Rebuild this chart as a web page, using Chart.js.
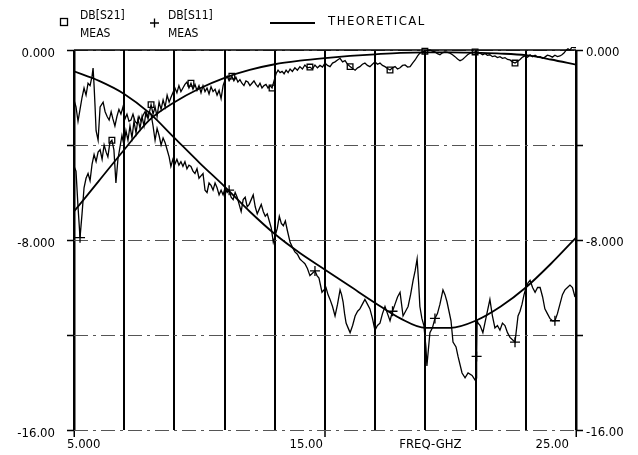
<!DOCTYPE html>
<html>
<head>
<meta charset="utf-8">
<script src="https://cdn.jsdelivr.net/npm/chart.js@4/dist/chart.umd.min.js"></script>
<style>
  html, body { margin: 0; padding: 0; background: #fff; }
  canvas { display: block; }
</style>
</head>
<body>
<canvas id="chart" width="638" height="455"></canvas>
<script>
// measured DB[S21]
const s21MeasFreq = [5.00,5.08,5.16,5.24,5.32,5.40,5.48,5.56,5.64,5.72,5.80,5.88,5.96,6.04,6.12,6.20,6.28,6.35,6.43,6.51,6.59,6.67,6.75,6.83,6.91,6.99,7.07,7.15,7.23,7.31,7.39,7.47,7.55,7.63,7.71,7.79,7.87,7.95,8.07,8.15,8.23,8.31,8.39,8.47,8.55,8.63,8.71,8.79,8.86,8.94,9.02,9.10,9.18,9.26,9.34,9.42,9.50,9.58,9.66,9.74,9.82,9.90,9.98,10.06,10.14,10.22,10.30,10.38,10.46,10.54,10.62,10.70,10.78,10.86,10.94,11.02,11.10,11.18,11.29,11.37,11.45,11.53,11.61,11.69,11.77,11.85,11.93,12.01,12.09,12.17,12.25,12.33,12.41,12.49,12.57,12.65,12.73,12.81,12.89,12.97,13.05,13.13,13.21,13.29,13.37,13.45,13.53,13.61,13.70,13.80,13.90,14.00,14.10,14.20,14.30,14.40,14.50,14.60,14.70,14.80,14.90,15.00,15.10,15.20,15.30,15.40,15.50,15.60,15.70,15.80,15.90,16.00,16.10,16.20,16.30,16.39,16.49,16.59,16.69,16.79,16.89,16.99,17.09,17.19,17.29,17.39,17.49,17.59,17.69,17.79,17.89,17.99,18.09,18.19,18.29,18.39,18.49,18.59,18.69,18.78,18.88,18.98,19.08,19.18,19.28,19.38,19.48,19.58,19.68,19.78,19.88,19.98,20.08,20.18,20.28,20.38,20.48,20.58,20.68,20.78,20.88,20.98,21.08,21.18,21.28,21.37,21.47,21.57,21.67,21.77,21.87,21.97,22.07,22.17,22.27,22.37,22.47,22.57,22.67,22.77,22.87,22.97,23.07,23.17,23.27,23.37,23.47,23.57,23.67,23.76,23.86,23.96,24.06,24.16,24.26,24.36,24.44,24.52,24.60,24.68,24.76,24.84,24.92,25.00];
const s21MeasDb = [-4.9,-5.1,-6.6,-7.9,-6.9,-5.8,-5.4,-5.2,-5.5,-4.8,-4.4,-4.7,-4.3,-4.2,-4.6,-4.0,-4.3,-4.5,-3.9,-3.8,-4.2,-5.6,-4.6,-4.1,-3.6,-4.0,-3.4,-3.8,-3.2,-3.7,-3.0,-3.5,-2.9,-3.3,-2.8,-3.2,-2.6,-2.9,-2.3,-2.7,-2.4,-2.8,-2.2,-2.5,-2.1,-2.4,-1.9,-2.2,-2.0,-1.8,-1.6,-1.8,-1.5,-1.75,-1.6,-1.45,-1.35,-1.6,-1.4,-1.65,-1.45,-1.7,-1.5,-1.8,-1.5,-1.75,-1.6,-1.85,-1.55,-1.75,-1.65,-1.9,-1.7,-2.05,-1.5,-1.25,-1.1,-1.3,-1.1,-1.3,-1.15,-1.35,-1.25,-1.4,-1.5,-1.3,-1.35,-1.5,-1.4,-1.3,-1.45,-1.55,-1.4,-1.6,-1.5,-1.45,-1.6,-1.5,-1.6,-1.3,-1.0,-0.85,-0.95,-0.9,-1.0,-0.85,-0.95,-0.8,-0.9,-0.75,-0.85,-0.7,-0.8,-0.63,-0.75,-0.72,-0.8,-0.63,-0.75,-0.65,-0.72,-0.55,-0.65,-0.7,-0.55,-0.5,-0.42,-0.35,-0.5,-0.45,-0.6,-0.7,-0.78,-0.85,-0.75,-0.7,-0.6,-0.55,-0.65,-0.7,-0.6,-0.5,-0.6,-0.55,-0.65,-0.7,-0.78,-0.84,-0.75,-0.7,-0.8,-0.75,-0.65,-0.63,-0.72,-0.7,-0.55,-0.42,-0.25,-0.13,-0.08,-0.05,-0.02,0.0,-0.05,-0.08,-0.15,-0.2,-0.12,-0.08,-0.1,-0.13,-0.2,-0.28,-0.38,-0.45,-0.4,-0.3,-0.2,-0.13,-0.1,-0.08,-0.12,-0.13,-0.2,-0.15,-0.22,-0.2,-0.28,-0.25,-0.32,-0.28,-0.35,-0.32,-0.4,-0.42,-0.5,-0.55,-0.48,-0.4,-0.3,-0.25,-0.3,-0.2,-0.28,-0.22,-0.3,-0.28,-0.35,-0.3,-0.22,-0.25,-0.3,-0.22,-0.28,-0.25,-0.2,-0.13,-0.02,0.05,0.0,0.12,0.1,0.1];
const s21SquareAt = [6.51, 8.07, 9.66, 11.29, 12.89, 14.40, 16.00, 17.59, 18.98, 20.98, 22.57];
const s21CrossAt = [5.24];

// measured DB[S11]
const s11MeasFreq = [5.00,5.08,5.16,5.24,5.32,5.40,5.48,5.56,5.64,5.72,5.76,5.80,5.84,5.88,5.96,6.04,6.16,6.24,6.32,6.40,6.48,6.55,6.63,6.71,6.79,6.87,6.95,7.03,7.11,7.19,7.27,7.35,7.43,7.51,7.59,7.67,7.75,7.83,7.91,7.99,8.07,8.15,8.23,8.31,8.39,8.47,8.55,8.63,8.71,8.79,8.86,8.94,9.02,9.10,9.18,9.26,9.34,9.42,9.50,9.58,9.66,9.74,9.82,9.90,9.98,10.06,10.14,10.22,10.30,10.38,10.46,10.54,10.62,10.70,10.78,10.86,10.94,11.02,11.10,11.18,11.26,11.34,11.42,11.50,11.58,11.66,11.74,11.82,11.90,11.98,12.06,12.14,12.22,12.30,12.38,12.46,12.54,12.62,12.70,12.78,12.86,12.94,13.02,13.10,13.18,13.26,13.34,13.42,13.50,13.61,13.70,13.80,13.90,14.00,14.10,14.20,14.30,14.40,14.50,14.60,14.68,14.76,14.88,14.96,15.04,15.12,15.20,15.30,15.40,15.50,15.60,15.66,15.72,15.78,15.84,15.92,16.00,16.10,16.20,16.30,16.39,16.49,16.59,16.69,16.79,16.89,16.99,17.09,17.19,17.29,17.39,17.49,17.59,17.69,17.79,17.89,17.99,18.05,18.11,18.21,18.31,18.41,18.51,18.59,18.67,18.73,18.78,18.86,18.94,19.02,19.06,19.12,19.18,19.28,19.38,19.48,19.58,19.70,19.78,19.86,19.94,20.02,20.10,20.22,20.30,20.46,20.58,20.70,20.86,20.98,21.02,21.04,21.06,21.10,21.18,21.29,21.37,21.45,21.57,21.67,21.77,21.87,21.97,22.07,22.17,22.27,22.37,22.47,22.57,22.69,22.77,22.85,22.93,23.01,23.09,23.17,23.27,23.37,23.47,23.57,23.67,23.76,23.86,23.96,24.06,24.16,24.26,24.36,24.46,24.56,24.66,24.76,24.86,24.96];
const s11MeasDb = [-2.1,-2.4,-3.0,-2.5,-2.0,-1.6,-1.9,-1.4,-1.5,-1.1,-0.76,-1.5,-2.4,-3.4,-3.8,-2.4,-2.2,-2.6,-2.8,-2.95,-2.6,-2.9,-3.2,-2.8,-2.5,-2.7,-2.4,-2.9,-2.7,-3.0,-2.95,-2.7,-3.0,-3.1,-2.8,-3.0,-2.75,-2.6,-2.8,-2.6,-2.7,-3.2,-3.8,-3.3,-3.6,-4.0,-3.7,-3.9,-4.2,-4.5,-4.9,-4.6,-4.8,-4.6,-4.85,-4.7,-4.9,-4.7,-5.0,-4.85,-4.9,-5.1,-5.2,-5.0,-5.4,-5.3,-5.2,-5.9,-6.0,-5.6,-5.7,-5.9,-5.6,-5.8,-6.1,-5.9,-6.1,-5.8,-6.0,-5.9,-6.2,-6.3,-6.0,-6.2,-6.5,-6.8,-6.3,-6.2,-6.6,-6.5,-6.3,-6.1,-6.6,-6.9,-6.7,-6.5,-6.8,-7.0,-6.9,-7.2,-7.5,-8.1,-7.8,-7.5,-7.0,-7.3,-7.4,-7.2,-7.6,-8.1,-8.3,-8.5,-8.6,-8.8,-8.9,-9.0,-9.2,-9.5,-9.4,-9.3,-9.5,-9.6,-10.2,-10.1,-10.0,-10.3,-10.5,-10.8,-11.2,-10.7,-10.1,-10.3,-10.6,-11.1,-11.5,-11.7,-11.9,-11.6,-11.2,-11.0,-10.9,-10.7,-10.5,-10.7,-10.9,-11.3,-11.8,-11.6,-11.5,-11.1,-10.8,-11.1,-11.4,-11.0,-10.7,-10.4,-10.2,-10.7,-11.2,-11.0,-10.8,-10.3,-9.7,-9.3,-8.8,-9.8,-10.8,-11.3,-11.6,-12.5,-13.3,-12.6,-11.9,-11.7,-11.3,-11.1,-10.7,-10.1,-10.3,-10.6,-11.0,-11.4,-12.3,-12.5,-12.9,-13.6,-13.8,-13.6,-13.7,-13.9,-13.8,-12.9,-11.4,-11.5,-11.6,-11.9,-11.5,-11.1,-10.5,-11.2,-11.7,-11.6,-11.8,-11.5,-11.6,-11.9,-12.1,-12.2,-12.3,-11.2,-11.0,-10.7,-10.3,-10.0,-9.8,-9.7,-10.0,-10.2,-10.0,-10.0,-10.4,-10.9,-11.1,-11.3,-11.4,-11.4,-11.1,-10.7,-10.3,-10.1,-10.0,-9.9,-10.0,-10.4];
const s11CrossAt = [11.18, 14.60, 17.69, 19.38, 21.04, 22.57, 24.16];

// theoretical curves
const theoryFreq = [5,6,7,8,9,10,11,12,13,14,15,16,17,18,19,20,21,22,23,24,25];
const s21TheoryDb = [-6.8,-5.5,-4.2,-2.95,-2.2,-1.62,-1.17,-0.84,-0.6,-0.45,-0.34,-0.25,-0.18,-0.12,-0.1,-0.1,-0.12,-0.15,-0.22,-0.4,-0.62];
const s11TheoryDb = [-0.9,-1.3,-1.85,-2.65,-3.7,-4.75,-5.75,-6.8,-7.75,-8.55,-9.25,-9.95,-10.65,-11.3,-11.7,-11.7,-11.4,-10.8,-10.0,-9.0,-7.9];

// tick labels
const xTickValues = [5, 15, 19, 25];
const xTickLabels = ['5.000', '15.00', 'FREQ-GHZ', '25.00'];
const yTickValues = [0, -8, -16];
const yTickLabels = ['0.000', '-8.000', '-16.00'];

const FONT = '"DejaVu Sans Condensed", "DejaVu Sans", sans-serif';

function pts(fs, vs) {
  return fs.map((f, i) => ({ x: f, y: vs[i] }));
}
function near(list, v) {
  return list.some(m => Math.abs(m - v) < 0.005);
}
function markerStyle(squares, crosses) {
  return {
    pointStyle: ctx => near(crosses, ctx.raw.x) ? 'cross' : 'rect',
    pointRadius: ctx => near(crosses, ctx.raw.x) ? 5 : (near(squares, ctx.raw.x) ? 4 : 0),
    pointBorderWidth: 1.3,
    pointBorderColor: '#000',
    pointBackgroundColor: 'rgba(0,0,0,0)'
  };
}
function yLabel(v) {
  const i = yTickValues.indexOf(v);
  return i >= 0 ? yTickLabels[i] : '';
}

// legend, x labels and top frame line
const plotterDecor = {
  id: 'plotterDecor',
  afterDraw(chart) {
    const ctx = chart.ctx;
    const x = chart.scales.x;
    const area = chart.chartArea;
    ctx.save();
    ctx.fillStyle = '#000';
    ctx.strokeStyle = '#000';

    // top frame line
    ctx.lineWidth = 1.5;
    ctx.beginPath();
    ctx.moveTo(area.left, area.top);
    ctx.lineTo(area.right, area.top);
    ctx.stroke();

    // x labels
    ctx.font = '13px ' + FONT;
    ctx.textBaseline = 'middle';
    xTickValues.forEach((v, i) => {
      const px = x.getPixelForValue(v);
      if (i === 0) { ctx.textAlign = 'left'; ctx.fillText(xTickLabels[i], px - 7, 445); }
      else if (i === 2) { ctx.textAlign = 'center'; ctx.fillText(xTickLabels[i], px + 5, 445); }
      else { ctx.textAlign = 'right'; ctx.fillText(xTickLabels[i], px - (i === 3 ? 7 : 2), 445); }
    });

    // legend
    ctx.font = '12px ' + FONT;
    ctx.textAlign = 'left';
    ctx.lineWidth = 1.3;
    ctx.strokeRect(60.5, 18.5, 7, 7);
    ctx.fillText('DB[S21]', 80, 16);
    ctx.fillText('MEAS', 80, 34);
    ctx.beginPath();
    ctx.moveTo(150, 23); ctx.lineTo(159, 23);
    ctx.moveTo(154.5, 18.5); ctx.lineTo(154.5, 27.5);
    ctx.stroke();
    ctx.fillText('DB[S11]', 168, 16);
    ctx.fillText('MEAS', 168, 34);
    ctx.lineWidth = 2;
    ctx.beginPath();
    ctx.moveTo(270, 23); ctx.lineTo(315, 23);
    ctx.stroke();
    ctx.font = '13px ' + FONT;
    if ('letterSpacing' in ctx) ctx.letterSpacing = '1.5px';
    ctx.fillText('THEORETICAL', 328, 22);
    ctx.restore();
  }
};

new Chart(document.getElementById('chart'), {
  type: 'line',
  data: {
    datasets: [
      Object.assign({
        label: 'DB[S21] MEAS',
        data: pts(s21MeasFreq, s21MeasDb),
        borderColor: '#000',
        borderWidth: 1.3,
        tension: 0,
        clip: 3
      }, markerStyle(s21SquareAt, s21CrossAt)),
      Object.assign({
        label: 'DB[S11] MEAS',
        data: pts(s11MeasFreq, s11MeasDb),
        borderColor: '#000',
        borderWidth: 1.3,
        tension: 0,
        clip: 3
      }, markerStyle([], s11CrossAt)),
      {
        label: 'THEORETICAL S21',
        data: pts(theoryFreq, s21TheoryDb),
        borderColor: '#000',
        borderWidth: 1.8,
        pointRadius: 0,
        cubicInterpolationMode: 'monotone'
      },
      {
        label: 'THEORETICAL S11',
        data: pts(theoryFreq, s11TheoryDb),
        borderColor: '#000',
        borderWidth: 1.8,
        pointRadius: 0,
        cubicInterpolationMode: 'monotone'
      }
    ]
  },
  options: {
    responsive: false,
    animation: false,
    events: [],
    layout: { padding: { top: 50, left: 0, right: 0, bottom: 0 } },
    plugins: { legend: { display: false }, tooltip: { enabled: false } },
    scales: {
      x: {
        type: 'linear',
        min: 5,
        max: 25,
        ticks: { display: false, stepSize: 2 },
        grid: {
          color: '#000',
          lineWidth: ctx => (ctx.tick && (ctx.tick.value === 5 || ctx.tick.value === 25)) ? 2.5 : 2,
          tickLength: 7,
          tickWidth: 1.5,
          tickColor: ctx => (ctx.tick && [5, 15, 25].includes(ctx.tick.value)) ? '#000' : 'rgba(0,0,0,0)'
        },
        border: { display: false },
        afterFit(scale) { scale.height = 25; }
      },
      y: {
        position: 'left',
        min: -16,
        max: 0,
        ticks: {
          stepSize: 4,
          autoSkip: false,
          padding: 12,
          labelOffset: 4,
          color: '#000',
          font: { family: FONT, size: 13 },
          callback: v => yLabel(v)
        },
        grid: {
          color: '#555',
          lineWidth: 1,
          tickLength: 7,
          tickColor: '#000',
          tickWidth: 1.5,
          tickBorderDash: []
        },
        border: { display: false, dash: [14, 5, 3, 5] },
        afterFit(scale) { scale.width = 74; }
      },
      y2: {
        position: 'right',
        min: -16,
        max: 0,
        ticks: {
          stepSize: 4,
          autoSkip: false,
          padding: 3,
          labelOffset: 3,
          color: '#000',
          font: { family: FONT, size: 13 },
          callback: v => yLabel(v)
        },
        grid: {
          drawOnChartArea: false,
          tickLength: 7,
          tickColor: '#000',
          tickWidth: 1.5
        },
        border: { display: false },
        afterFit(scale) { scale.width = 62; }
      }
    }
  },
  plugins: [plotterDecor]
});
</script>
</body>
</html>
